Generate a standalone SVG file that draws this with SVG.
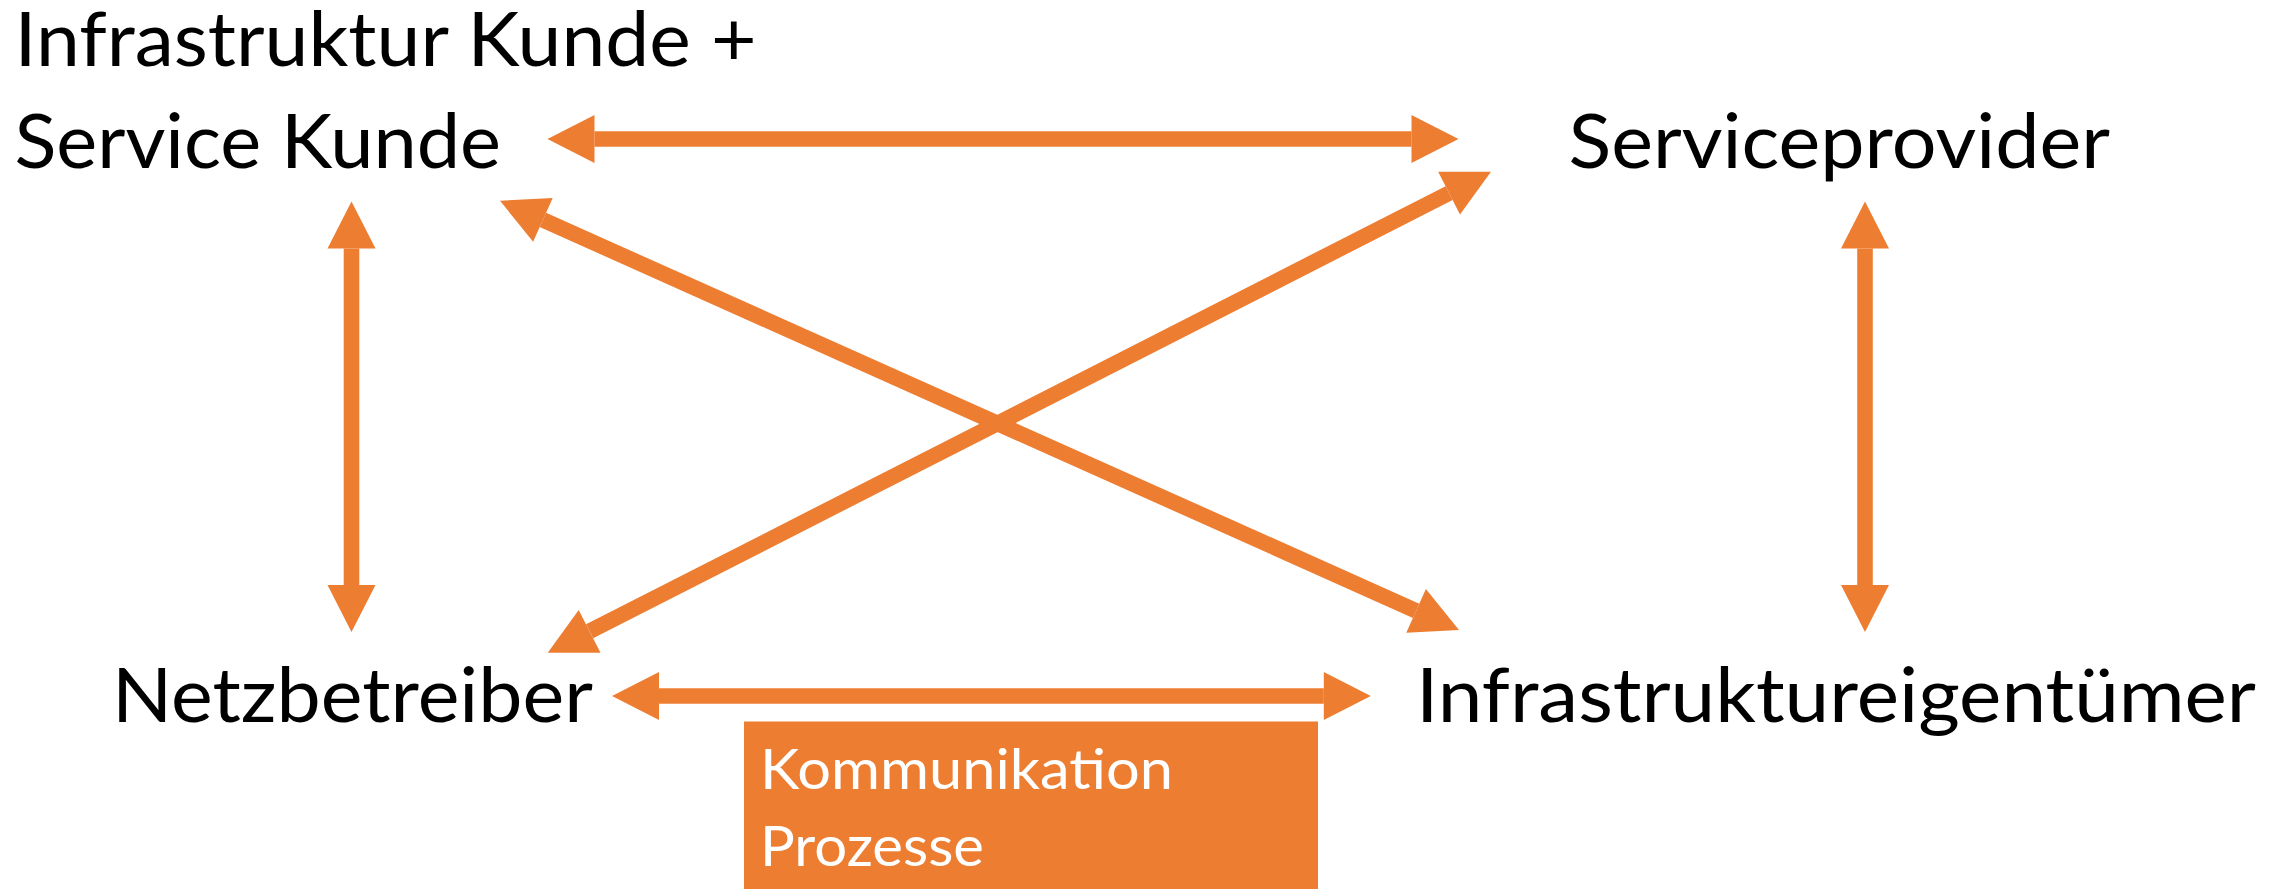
<svg xmlns="http://www.w3.org/2000/svg" width="2284" height="889" viewBox="0 0 2284 889">
  <style>
    .lbl { font-family: Lato, "Open Sans", "Liberation Sans", sans-serif; font-size: 75px; fill: #000000; }
    .box-lbl { font-family: Lato, "Open Sans", "Liberation Sans", sans-serif; font-size: 56px; fill: #ffffff; }
    .link { stroke: #ED7D31; stroke-width: 15.6; fill: none; marker-start: url(#head); marker-end: url(#head); }
  </style>
  <defs>
    <!-- block arrowhead; the line ends at the head's base -->
    <marker id="head" markerUnits="userSpaceOnUse" viewBox="0 0 47 48" markerWidth="47" markerHeight="48" refX="0" refY="24" orient="auto-start-reverse" overflow="visible">
      <path d="M0,0 L47,24 L0,48 Z" fill="#ED7D31"/>
    </marker>
  </defs>

  <rect width="2284" height="889" fill="#ffffff"/>

  <!-- connectors -->
  <g id="connectors">
    <line class="link" x1="594.5" y1="139" x2="1411.5" y2="139"/>
    <line class="link" x1="351.5" y1="248.5" x2="351.5" y2="585"/>
    <line class="link" x1="1865" y1="248.5" x2="1865" y2="585"/>
    <line class="link" x1="659" y1="696" x2="1323.8" y2="696"/>
    <line class="link" x1="542.9" y1="219.9" x2="1416.1" y2="610.8"/>
    <line class="link" x1="589.6" y1="631.3" x2="1449.1" y2="193.1"/>
  </g>

  <g id="kunde">
    <text class="lbl" x="14.5" y="66" textLength="742" lengthAdjust="spacingAndGlyphs">Infrastruktur Kunde +</text>
    <text class="lbl" x="14.5" y="168" textLength="486.5" lengthAdjust="spacingAndGlyphs">Service Kunde</text>
  </g>

  <g id="serviceprovider">
    <text class="lbl" x="1568.5" y="168" textLength="541.5" lengthAdjust="spacingAndGlyphs">Serviceprovider</text>
  </g>

  <g id="netzbetreiber">
    <text class="lbl" x="112" y="722" textLength="481" lengthAdjust="spacingAndGlyphs">Netzbetreiber</text>
  </g>

  <g id="infrastruktureigentuemer">
    <text class="lbl" x="1416" y="722" textLength="840" lengthAdjust="spacingAndGlyphs">Infrastruktureigentümer</text>
  </g>

  <g id="kommunikation">
    <rect x="744" y="721.5" width="574" height="170" fill="#ED7D31"/>
    <text class="box-lbl" x="760" y="789" textLength="413" lengthAdjust="spacingAndGlyphs">Kommunikation</text>
    <text class="box-lbl" x="760" y="866" textLength="224" lengthAdjust="spacingAndGlyphs">Prozesse</text>
  </g>
</svg>
